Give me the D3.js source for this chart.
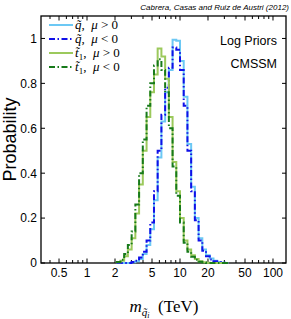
<!DOCTYPE html>
<html>
<head>
<meta charset="utf-8">
<script src="https://cdn.jsdelivr.net/npm/d3@7"></script>
<style>
body { margin: 0; background: #fff; }
</style>
</head>
<body>
<div class="content"></div>
<script>
// histogram bin edges, TeV
var binEdges = [2.09, 2.29, 2.51, 2.75, 3.02, 3.31, 3.63, 3.98, 4.37, 4.79, 5.25, 5.75, 6.31, 6.92, 7.59, 8.32,
                9.12, 10.0, 10.96, 12.02, 13.18, 14.45, 15.85, 17.38, 19.05, 20.89, 22.91, 25.12, 27.54, 30.2, 33.11];

var squarkPos = [0, 0, 0, 0, 0.003, 0.008, 0.018, 0.04, 0.08, 0.15, 0.28, 0.47, 0.63, 0.76, 0.86, 0.994,
                 0.99, 0.90, 0.74, 0.53, 0.34, 0.20, 0.11, 0.06, 0.035, 0.02, 0.01, 0.004, 0.001, 0];
var squarkNeg = [0, 0, 0, 0, 0.004, 0.01, 0.024, 0.05, 0.10, 0.18, 0.32, 0.50, 0.66, 0.78, 0.87, 0.96,
                 0.95, 0.86, 0.70, 0.50, 0.32, 0.19, 0.10, 0.055, 0.03, 0.016, 0.008, 0.003, 0.001, 0];
var stopPos = [0.003, 0.01, 0.03, 0.06, 0.11, 0.22, 0.35, 0.50, 0.65, 0.76, 0.84, 0.955, 0.92, 0.82, 0.65, 0.45,
               0.32, 0.20, 0.10, 0.06, 0.035, 0.018, 0.008, 0.003, 0.001, 0, 0, 0, 0, 0];
var stopNeg = [0.005, 0.015, 0.04, 0.08, 0.14, 0.26, 0.40, 0.55, 0.70, 0.80, 0.88, 0.907, 0.86, 0.76, 0.60, 0.43,
               0.30, 0.18, 0.09, 0.05, 0.028, 0.014, 0.006, 0.002, 0, 0, 0, 0, 0, 0];

var xTickLabels = [0.5, 1, 2, 5, 10, 20, 50, 100];
var xMinorTicks = [0.4, 0.5, 0.6, 0.7, 0.8, 0.9, 1, 2, 3, 4, 5, 6, 7, 8, 9, 10, 20, 30, 40, 50, 60, 70, 80, 90, 100];
var yTicks = [0, 0.2, 0.4, 0.6, 0.8, 1];
var yTickLabels = ["0", "0.2", "0.4", "0.6", "0.8", "1"];

var series = [
  {sq: "q", sub: "", sign: ">", vals: squarkPos, color: "#6cc8f4", dash: null},
  {sq: "q", sub: "", sign: "<", vals: squarkNeg, color: "#1010e8", dash: "6,2.5,1.5,2.5"},
  {sq: "t", sub: "1", sign: ">", vals: stopPos, color: "#9cc95c", dash: null},
  {sq: "t", sub: "1", sign: "<", vals: stopNeg, color: "#177a1a", dash: "6,2.5,1.5,2.5"}
];

var W = 291, H = 319;
var pLeft = 41, pRight = 286, pTop = 16, pBottom = 263;

var svg = d3.select(".content")
  .append("svg")
  .attr("width", W)
  .attr("height", H)
  .style("font-family", "'Liberation Sans', Arial, sans-serif");

var x = d3.scaleLog().domain([0.32, 138]).range([pLeft, pRight]);
var y = d3.scaleLinear().domain([0, 1.1]).range([pBottom, pTop]);

svg.append("clipPath").attr("id", "plot")
  .append("rect").attr("x", pLeft).attr("y", pTop - 2).attr("width", pRight - pLeft).attr("height", pBottom - pTop + 4);

// frame
svg.append("rect")
  .attr("x", pLeft).attr("y", pTop)
  .attr("width", pRight - pLeft).attr("height", pBottom - pTop)
  .attr("fill", "none").attr("stroke", "#000").attr("stroke-width", 1.3);

// x ticks, bottom and top, inward
xMinorTicks.forEach(function(t) {
  var big = xTickLabels.indexOf(t) >= 0 ? 4.5 : 3;
  svg.append("line").attr("x1", x(t)).attr("x2", x(t)).attr("y1", pBottom).attr("y2", pBottom - big)
    .attr("stroke", "#000").attr("stroke-width", 1);
  svg.append("line").attr("x1", x(t)).attr("x2", x(t)).attr("y1", pTop).attr("y2", pTop + big)
    .attr("stroke", "#000").attr("stroke-width", 1);
});

svg.selectAll(".xlab")
  .data(xTickLabels)
  .enter().append("text")
  .attr("x", function(d) { return x(d); })
  .attr("y", 277)
  .attr("text-anchor", "middle")
  .style("font-size", "12px")
  .text(function(d) { return d; });

// y ticks, left and right
yTicks.forEach(function(t, i) {
  svg.append("line").attr("x1", pLeft).attr("x2", pLeft + 4).attr("y1", y(t)).attr("y2", y(t))
    .attr("stroke", "#000").attr("stroke-width", 1);
  svg.append("line").attr("x1", pRight).attr("x2", pRight - 4).attr("y1", y(t)).attr("y2", y(t))
    .attr("stroke", "#000").attr("stroke-width", 1);
  svg.append("text")
    .attr("x", 37).attr("y", y(t)).attr("dy", "0.36em")
    .attr("text-anchor", "end")
    .style("font-size", "12px")
    .text(yTickLabels[i]);
});

// histograms
var line = d3.line()
  .x(function(d) { return x(d[0]); })
  .y(function(d) { return y(d[1]); });

function stepPts(vals) {
  var p = [[binEdges[0], 0]];
  vals.forEach(function(v, i) {
    p.push([binEdges[i], v]);
    p.push([binEdges[i + 1], v]);
  });
  p.push([binEdges[binEdges.length - 1], 0]);
  return p;
}

svg.append("g").attr("clip-path", "url(#plot)")
  .selectAll("path")
  .data(series)
  .enter().append("path")
  .attr("d", function(d) { return line(stepPts(d.vals)); })
  .attr("fill", "none")
  .attr("stroke", function(d) { return d.color; })
  .attr("stroke-width", 2)
  .attr("stroke-dasharray", function(d) { return d.dash; });

// legend
var leg = svg.selectAll(".leg")
  .data(series)
  .enter().append("g")
  .attr("transform", function(d, i) { return "translate(0," + (25 + i * 14) + ")"; });

leg.append("line")
  .attr("x1", 49).attr("x2", 73).attr("y1", 0).attr("y2", 0)
  .attr("stroke", function(d) { return d.color; })
  .attr("stroke-width", 2)
  .attr("stroke-dasharray", function(d) { return d.dash; });

var lt = leg.append("text")
  .attr("x", 75).attr("y", 4)
  .style("font-family", "'Liberation Serif', 'Times New Roman', serif")
  .style("font-size", "13px");
lt.append("tspan").style("font-style", "italic").text(function(d) { return d.sq + "\u0303"; });
lt.append("tspan").attr("dy", 3).style("font-size", "9px").text(function(d) { return d.sub; });
lt.append("tspan").attr("dy", function(d) { return d.sub ? -3 : 0; }).text(",\u2002");
lt.append("tspan").style("font-style", "italic").text("\u03bc");
lt.append("tspan").text(function(d) { return " " + d.sign + " 0"; });

// annotations
svg.append("text").attr("x", 277).attr("y", 45).attr("text-anchor", "end")
  .style("font-size", "12.5px").text("Log Priors");
svg.append("text").attr("x", 277).attr("y", 68).attr("text-anchor", "end")
  .style("font-size", "12.5px").text("CMSSM");

svg.append("text").attr("x", 289).attr("y", 10).attr("text-anchor", "end")
  .style("font-size", "8px").style("font-style", "italic")
  .text("Cabrera, Casas and Ruiz de Austri (2012)");

// axis titles
svg.append("text")
  .attr("transform", "translate(16," + ((pTop + pBottom) / 2) + ") rotate(-90)")
  .attr("text-anchor", "middle")
  .style("font-size", "18px")
  .text("Probability");

var xt = svg.append("text")
  .attr("x", 164).attr("y", 312)
  .attr("text-anchor", "middle")
  .style("font-family", "'Liberation Serif', 'Times New Roman', serif")
  .style("font-size", "17px");
xt.append("tspan").style("font-style", "italic").text("m");
xt.append("tspan").attr("dy", 4).style("font-size", "11px").style("font-style", "italic").text("q\u0303");
xt.append("tspan").attr("dy", 2).style("font-size", "8px").style("font-style", "italic").text("i");
xt.append("tspan").attr("dy", -6).text("\u2002(TeV)");
</script>
</body>
</html>
